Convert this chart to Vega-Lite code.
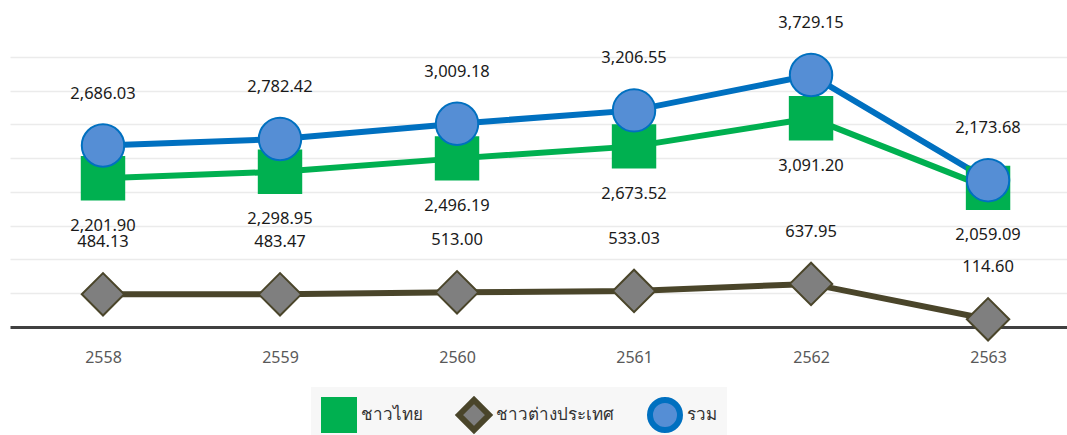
{
  "$schema": "https://vega.github.io/schema/vega-lite/v6.json",
  "autosize": {"type": "none"},
  "padding": {"left": 10, "top": 23, "right": 0, "bottom": 108},
  "width": 1057,
  "height": 304,
  "background": "white",
  "config": {
    "view": {"stroke": null},
    "font": "Noto Sans",
    "text": {"font": "Noto Sans"}
  },
  "data": {
    "values": [
      {"year": 2558, "series": "ชาวไทย", "value": 2201.90},
      {"year": 2559, "series": "ชาวไทย", "value": 2298.95},
      {"year": 2560, "series": "ชาวไทย", "value": 2496.19},
      {"year": 2561, "series": "ชาวไทย", "value": 2673.52},
      {"year": 2562, "series": "ชาวไทย", "value": 3091.20},
      {"year": 2563, "series": "ชาวไทย", "value": 2059.09},
      {"year": 2558, "series": "ชาวต่างประเทศ", "value": 484.13},
      {"year": 2559, "series": "ชาวต่างประเทศ", "value": 483.47},
      {"year": 2560, "series": "ชาวต่างประเทศ", "value": 513.00},
      {"year": 2561, "series": "ชาวต่างประเทศ", "value": 533.03},
      {"year": 2562, "series": "ชาวต่างประเทศ", "value": 637.95},
      {"year": 2563, "series": "ชาวต่างประเทศ", "value": 114.60},
      {"year": 2558, "series": "รวม", "value": 2686.03},
      {"year": 2559, "series": "รวม", "value": 2782.42},
      {"year": 2560, "series": "รวม", "value": 3009.18},
      {"year": 2561, "series": "รวม", "value": 3206.55},
      {"year": 2562, "series": "รวม", "value": 3729.15},
      {"year": 2563, "series": "รวม", "value": 2173.68}
    ]
  },
  "encoding": {
    "x": {
      "field": "year",
      "type": "quantitative",
      "scale": {"domain": [2557.4746, 2563.446], "nice": false, "zero": false},
      "axis": {
        "title": null,
        "values": [2558, 2559, 2560, 2561, 2562, 2563],
        "format": "d",
        "grid": false,
        "ticks": false,
        "tickSize": 0,
        "labelPadding": 22,
        "labelFontSize": 16,
        "labelColor": "#595959",
        "labelFont": "Noto Sans",
        "domainColor": "#404040",
        "domainWidth": 3
      }
    },
    "y": {
      "field": "value",
      "type": "quantitative",
      "scale": {"domain": [0, 4500], "nice": false},
      "axis": {
        "title": null,
        "labels": false,
        "ticks": false,
        "domain": false,
        "grid": true,
        "gridColor": "#ebebeb",
        "gridWidth": 1.5,
        "values": [500, 1000, 1500, 2000, 2500, 3000, 3500, 4000]
      }
    }
  },
  "layer": [
    {
      "mark": {"type": "line", "strokeWidth": 6},
      "encoding": {
        "color": {
          "field": "series",
          "type": "nominal",
          "scale": {"domain": ["ชาวไทย", "ชาวต่างประเทศ", "รวม"], "range": ["#00b050", "#4a452a", "#0070c0"]},
          "legend": {
            "title": null,
            "orient": "none",
            "legendX": 301,
            "legendY": 364,
            "direction": "horizontal",
            "fillColor": "#f7f7f7",
            "padding": 10,
            "symbolType": "stroke",
            "symbolSize": 900,
            "symbolStrokeWidth": 6,
            "columnPadding": 24,
            "labelFontSize": 17,
            "labelColor": "#333333"
          }
        }
      }
    },
    {
      "mark": {"type": "point", "filled": true, "opacity": 1, "strokeWidth": 2, "size": 1800},
      "encoding": {
        "shape": {
          "field": "series",
          "type": "nominal",
          "scale": {"domain": ["ชาวไทย", "ชาวต่างประเทศ", "รวม"], "range": ["square", "diamond", "circle"]},
          "legend": null
        },
        "fill": {
          "field": "series",
          "type": "nominal",
          "scale": {"domain": ["ชาวไทย", "ชาวต่างประเทศ", "รวม"], "range": ["#00b050", "#7f7f7f", "#558ed5"]},
          "legend": null
        },
        "stroke": {
          "field": "series",
          "type": "nominal",
          "scale": {"domain": ["ชาวไทย", "ชาวต่างประเทศ", "รวม"], "range": ["#00b050", "#4a452a", "#0070c0"]},
          "legend": null
        }
      }
    },
    {
      "transform": [{"filter": "datum.series === 'รวม'"}],
      "mark": {"type": "text", "dy": -52, "fontSize": 16.5, "color": "#1a1a1a", "font": "Noto Sans"},
      "encoding": {"text": {"field": "value", "type": "quantitative", "format": ",.2f"}}
    },
    {
      "transform": [{"filter": "datum.series === 'ชาวไทย'"}],
      "mark": {"type": "text", "dy": 47.5, "fontSize": 16.5, "color": "#1a1a1a", "font": "Noto Sans"},
      "encoding": {"text": {"field": "value", "type": "quantitative", "format": ",.2f"}}
    },
    {
      "transform": [{"filter": "datum.series === 'ชาวต่างประเทศ'"}],
      "mark": {"type": "text", "dy": -52, "fontSize": 16.5, "color": "#1a1a1a", "font": "Noto Sans"},
      "encoding": {"text": {"field": "value", "type": "quantitative", "format": ",.2f"}}
    }
  ]
}
